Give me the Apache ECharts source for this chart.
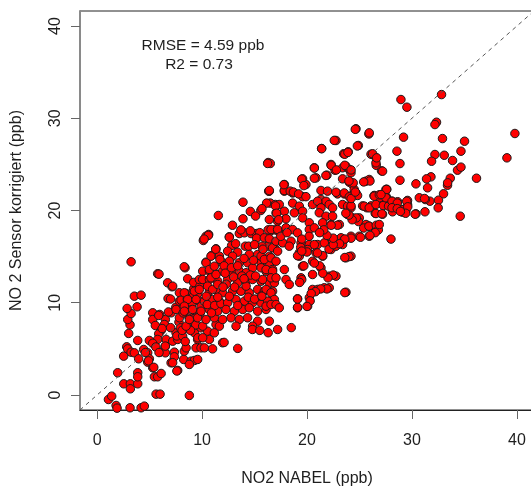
<!DOCTYPE html>
<html>
<head>
<meta charset="utf-8">
<script src="https://cdn.jsdelivr.net/npm/echarts@6/dist/echarts.min.js"></script>
<style>
  html, body { margin: 0; padding: 0; background: #fff; }
  #chart { width: 531px; height: 488px; }
</style>
</head>
<body>
<div id="chart"></div>
<script>
// NO2 NABEL (x) vs. sensor corrected (y), ppb
const lowPoints = [
  [1.08,-0.49],[1.39,-0.13],[1.81,-1.14],[1.9,-1.43],[3.14,-1.39],[4.19,-1.39],[4.5,-1.21],[1.96,2.41],[2.54,1.21],[3.17,1.21],
  [3.87,1.21],[3.17,0.67],[3.87,2.41],[3.87,1.97],[2.53,4.21],[2.82,5.22],[2.91,5.0],[3.24,4.64],[3.55,4.57],[3.96,3.92],
  [3.87,5.91],[3.01,6.67],[3.14,7.61],[2.92,8.18],[3.24,8.83],[2.86,9.38],[3.81,9.56],[3.55,10.71],[4.19,10.82],[3.24,14.44],
  [4.44,4.93],[4.82,4.57],[4.98,3.92],[4.82,3.56],[4.98,5.91],[5.62,0.09],[6.0,0.09],[5.3,2.95],[5.46,1.97],[5.77,1.97],
  [6.1,2.33],[6.0,4.64],[6.5,5.29],[6.5,4.57],[7.36,4.64],[7.05,3.49],[7.36,4.14],[7.68,2.66],[5.3,8.91],[5.96,8.73],
  [5.3,8.18],[6.5,8.18],[7.05,8.91],[5.55,7.53],[6.41,7.64],[6.1,6.99],[5.87,6.63],[6.57,6.02],[5.77,6.02],[7.52,6.74],
  [7.2,5.83],[7.68,6.02],[5.77,13.14],[6.72,12.16],[7.14,11.73],[6.76,10.46],[5.87,8.62],[7.84,11.08],[7.0,10.4],[6.2,7.2],
  [7.0,7.3],[5.3,5.6],[5.6,5.2],[7.8,7.9],[7.5,9.5],[6.8,9.0],[7.6,6.4],[6.5,5.3],[5.9,4.6],[7.2,3.5],
  [7.6,2.6],[4.9,3.7],[5.4,3.0],[4.6,4.6],[5.9,13.1],[7.2,11.8],[7.52,9.27],[7.84,10.17],[7.84,8.37]
];

const midLowPoints = [
  [8.25,3.85],[8.95,3.66],[9.27,3.74],[9.58,3.85],[8.79,3.31],[8.31,4.75],[8.48,5.11],[8.15,6.38],[8.48,7.28],[7.93,7.28],
  [8.95,8.0],[9.43,5.11],[9.9,5.11],[9.27,6.74],[9.9,7.28],[9.58,6.02],[8.79,-0.05],[8.38,13.79],[8.63,12.6],[8.48,11.0],
  [8.0,10.28],[9.2,11.51],[8.5,9.5],[9.0,9.8],[9.5,9.0],[8.7,8.6],[9.3,8.3],[8.2,8.9],[9.7,10.2],[9.1,10.6],
  [8.6,10.4],[9.8,8.8],[9.4,7.6],[8.9,7.0],[8.4,5.8],[9.6,6.2],[9.2,12.2],[9.8,11.8],[8.8,9.2],[9.9,9.6],
  [9.6,11.0],[8.1,7.0],[8.3,13.9],[8.31,11.08],[9.27,11.25],[8.63,10.35],[9.1,9.27],[9.58,8.37],[8.48,7.46],[8.31,9.63],
  [8.31,9.08],[9.9,9.08],[8.79,8.18],[9.43,10.35],[9.74,11.44],[9.74,12.52],[10.22,5.11],[10.53,6.92],[10.7,6.02],[10.06,6.2],
  [11.0,5.0],[11.96,5.66],[11.17,6.74],[11.33,7.64],[10.38,17.21],[10.63,17.4],[10.12,16.75],[11.55,19.46],[11.33,15.85],[10.92,15.12],
  [10.38,14.4],[10.06,13.42],[10.85,15.05],[11.65,15.05],[10.38,14.33],[11.96,14.33],[10.7,13.42],[11.17,13.25],[10.06,12.52],[11.49,12.34],
  [10.7,11.25],[11.96,11.08],[10.22,10.17],[11.65,10.17],[10.7,9.27],[11.17,8.37],[10.06,7.46],[11.65,7.46],[10.7,12.52],[11.96,13.42],
  [11.33,11.44],[11.01,10.35],[11.49,9.08],[10.38,8.18],[11.96,8.18],[10.7,13.6],[11.17,13.96],[10.85,12.7],[11.33,13.06],[10.53,11.8],
  [11.01,11.44],[11.49,11.98],[10.6,17.3],[10.2,16.9],[11.3,15.8],[11.7,14.7],[10.5,9.8],[11.2,9.7],[10.9,8.9],[11.8,9.9],
  [10.4,10.7],[11.5,10.6]
];

const midPoints = [
  [12.6,17.15],[13.55,17.5],[14.03,17.58],[14.67,17.5],[15.2,17.5],[16.5,17.76],[12.82,16.2],[14.12,16.13],[14.44,16.13],[16.25,16.13],
  [16.89,15.96],[12.44,15.59],[13.39,15.48],[12.91,15.05],[14.5,15.23],[15.3,15.23],[16.41,15.05],[12.6,14.5],[13.55,14.33],[14.34,14.33],
  [14.82,13.79],[15.62,14.33],[16.41,14.33],[12.91,13.42],[13.55,13.42],[14.19,13.25],[16.1,13.42],[16.72,13.6],[12.44,12.52],[13.39,12.16],
  [14.19,12.34],[14.82,12.52],[15.62,12.34],[16.41,12.16],[12.91,11.25],[13.71,11.25],[14.5,11.08],[15.3,11.44],[15.93,11.25],[16.72,11.25],
  [12.44,9.99],[13.23,10.35],[14.03,10.17],[14.82,9.99],[15.62,9.99],[16.41,10.17],[12.28,9.27],[13.08,9.08],[13.87,9.27],[14.5,9.45],
  [15.3,9.08],[16.1,9.27],[12.76,8.37],[13.55,8.18],[14.34,8.37],[15.3,8.0],[16.41,8.0],[13.24,7.46],[14.82,7.46],[12.1,5.7],
  [13.4,5.05],[14.8,7.1],[15.5,7.0],[16.3,6.75],[12.9,18.4],[13.7,17.9],[14.6,17.8],[15.5,17.6],[15.2,17.0],[12.6,17.1],
  [13.9,20.9],[15.6,20.0],[14.6,19.9],[13.9,19.1],[15.1,19.4],[16.5,20.8],[16.4,22.1],[16.3,17.9],[16.9,17.9],[16.3,25.2],
  [16.5,25.1],[12.1,14.0],[16.35,22.1],[16.15,20.8],[15.71,20.2],[16.41,19.02],[16.57,17.94],[15.93,17.04],[16.41,16.93],[15.71,16.13],
  [16.72,15.96],[15.62,15.05],[15.93,14.69],[16.57,14.87],[15.62,13.79],[16.1,13.6],[16.72,13.42],[15.77,12.52],[16.89,12.16],[16.57,12.7],
  [16.1,11.44],[16.57,11.08],[15.62,10.71],[16.89,10.35],[16.25,10.17],[16.1,9.63],[16.57,9.81],[16.25,25.1],[16.41,22.17],[13.0,12.8],
  [12.3,12.0],[13.8,12.9],[14.6,13.0],[15.1,12.9],[13.1,11.7],[14.2,11.8],[12.6,10.7],[13.4,9.7],[14.4,10.6],[15.0,10.4],
  [15.7,10.7],[12.2,13.2],[12.8,13.8],[13.4,14.0],[14.0,14.8],[14.9,14.6],[13.2,16.4],[15.0,16.3],[15.8,15.8],[14.0,12.6],
  [12.0,11.7]
];

const highMidPoints = [
  [17.27,17.76],[17.05,14.5],[17.05,12.7],[17.05,9.81],[17.84,22.1],[18.63,21.9],[19.58,21.5],[21.33,21.2],[21.81,21.0],[22.91,21.8],
  [23.55,21.8],[24.19,21.6],[24.67,21.9],[16.98,20.65],[17.36,20.65],[18.63,20.8],[19.27,20.47],[20.53,20.65],[21.01,21.0],[21.33,20.29],
  [22.12,20.65],[22.44,20.29],[23.39,20.65],[23.87,20.47],[24.19,20.29],[17.05,19.75],[17.84,19.92],[18.79,19.75],[19.58,19.92],[21.17,19.75],
  [21.81,19.38],[22.44,19.38],[23.87,19.56],[24.34,19.2],[24.98,19.2],[18.0,19.1],[17.2,18.84],[19.58,19.2],[20.22,18.67],[21.49,18.67],
  [22.29,18.48],[23.08,18.48],[17.2,17.94],[18.0,18.12],[18.63,17.94],[19.1,17.58],[20.22,17.94],[20.7,18.12],[17.05,16.67],[17.68,16.49],
  [18.48,16.67],[19.43,16.49],[20.22,16.31],[21.01,16.31],[21.65,16.49],[22.44,16.67],[23.24,17.04],[23.55,16.86],[24.19,17.21],[24.98,17.21],
  [17.2,15.59],[18.31,16.13],[19.27,15.41],[20.06,15.77],[20.86,15.41],[21.49,15.05],[22.29,15.77],[22.76,16.13],[23.39,16.31],[23.71,14.87],
  [24.19,15.05],[19.27,15.05],[20.53,14.5],[17.84,13.6],[19.58,13.96],[21.33,13.79],[18.0,12.52],[18.31,11.98],[19.43,12.7],[20.53,13.06],
  [22.12,12.88],[22.76,12.88],[20.53,11.44],[21.01,11.44],[21.65,11.62],[22.12,11.62],[23.71,11.14],[19.1,10.43],[20.22,10.54],[19.1,9.45],
  [20.06,9.63],[17.36,9.45],[17.2,7.1],[18.5,7.3],[24.67,28.86],[22.76,27.59],[21.39,26.72],[24.89,27.05],[23.93,26.36],[23.49,26.15],
  [22.29,24.99],[22.67,24.37],[23.39,24.63],[23.71,24.8],[24.03,24.44],[24.19,24.09],[20.7,24.63],[21.9,23.83],[20.86,23.54],[19.58,23.43],
  [23.39,23.43],[24.03,23.07],[17.84,22.82],[19.9,22.82],[24.34,22.82],[24.5,22.28],[17.84,22.17],[21.33,22.17],[21.96,22.1],[22.76,21.98],
  [23.55,21.9],[24.03,21.48],[24.82,21.63],[17.8,22.8],[18.4,22.1],[18.7,22.0],[19.2,21.8],[19.5,23.4],[19.7,22.7],[19.9,21.5],
  [17.0,20.5],[17.1,19.7],[17.3,19.0],[17.5,17.2],[18.1,17.6],[24.2,17.0],[23.6,16.9],[23.1,16.4],[24.0,15.0],[23.6,14.9],
  [23.6,11.1],[22.5,13.0],[21.9,11.5],[21.3,11.5],[20.8,11.2],[20.4,11.0],[20.3,10.2],[20.0,9.6],[19.1,9.5],[19.1,10.4],
  [22.0,12.7],[21.5,13.2],[21.2,14.0],[20.7,14.3],[21.5,15.1],[22.1,15.8],[22.5,16.3],[22.5,17.0],[21.9,17.3],[22.9,18.4],
  [22.3,18.4],[21.6,17.9],[21.2,17.6],[20.2,17.2],[19.5,16.9],[19.4,16.0],[20.0,15.5],[20.7,16.3],[21.0,15.4],[19.5,12.5],
  [19.3,12.2],[19.7,14.0],[19.1,15.1],[19.5,15.6],[24.9,18.8],[24.7,19.2],[24.3,19.0],[24.0,19.5],[23.7,19.7],[24.2,20.5],
  [24.2,21.3],[24.6,22.0],[24.4,23.0],[24.0,23.2],[23.6,24.9],[24.2,24.4],[23.6,26.1],[23.9,26.3],[22.3,24.9],[22.8,24.4],
  [21.4,26.7],[22.6,27.6],[24.6,28.8],[24.8,27.0],[20.7,24.6],[21.8,23.8],[20.7,23.5]
];

const highPoints = [
  [25.9,28.3],[25.93,28.42],[26.1,26.1],[26.6,25.7],[26.6,24.9],[27.1,24.3],[26.25,26.15],[26.57,25.17],[27.2,24.26],[26.64,25.71],
  [25.62,23.18],[25.93,23.36],[26.0,23.2],[25.4,23.1],[27.6,22.3],[26.4,21.6],[26.9,21.6],[27.2,21.2],[26.41,21.63],[26.89,21.38],
  [27.58,21.38],[27.52,22.28],[26.1,20.5],[25.7,20.3],[26.5,19.7],[27.2,19.6],[25.3,20.5],[25.46,20.47],[25.93,20.29],[26.57,20.65],
  [27.27,20.54],[26.57,19.67],[25.62,18.48],[25.93,18.3],[26.57,17.76],[25.93,17.21],[25.4,18.1],[25.9,18.3],[26.6,18.4],[26.8,17.9],
  [26.5,17.6],[26.0,17.3],[25.1,17.1],[28.0,16.9],[26.41,21.55],[26.89,21.7],[27.52,21.55],[28.95,32.03],[29.52,31.2],[32.82,32.57],
  [32.34,29.57],[32.19,29.32],[39.81,28.35],[39.05,25.71],[29.2,27.95],[32.91,27.8],[35.01,27.51],[34.67,26.43],[34.34,24.37],[34.67,24.7],
  [33.87,25.42],[33.08,25.99],[32.19,26.07],[31.87,25.34],[28.57,26.43],[28.86,25.09],[36.15,23.5],[33.65,23.5],[33.39,22.74],[31.81,23.65],
  [31.39,23.43],[31.49,22.46],[30.38,22.89],[28.86,23.28],[27.58,22.28],[33.01,21.81],[32.53,21.12],[31.71,21.01],[31.27,21.19],[30.7,21.38],
  [29.58,21.09],[29.58,20.65],[28.63,20.95],[28.09,21.01],[27.52,21.38],[27.05,21.73],[27.77,20.47],[28.31,20.22],[28.95,20.11],[29.43,20.0],
  [28.15,19.86],[29.1,19.82],[30.38,19.64],[31.24,19.86],[32.5,20.29],[34.6,19.38],[27.14,19.64],[26.89,18.48],[28.1,21.0],[28.6,20.8],
  [28.1,20.3],[28.6,20.2],[29.2,20.1],[29.5,21.0],[29.6,20.4],[29.4,19.7],[28.9,19.9],[33.4,23.0],[31.2,21.3],[30.3,19.6]
];

const axisRange = [-1.63, 41.63];
const tickValues = [0, 10, 20, 30, 40];
const statsLines = ['RMSE = 4.59 ppb', 'R2 = 0.73'];

const points = lowPoints.concat(midLowPoints, midPoints, highMidPoints, highPoints);
const fontFamily = 'Liberation Sans, Arial, sans-serif';
const textColor = '#1e1e1e';

const chart = echarts.init(document.getElementById('chart'), null, { renderer: 'canvas' });

function axisCommon(name) {
  return {
    type: 'value',
    min: axisRange[0],
    max: axisRange[1],
    name: name,
    nameLocation: 'middle',
    nameTextStyle: { fontSize: 16, color: textColor, fontFamily: fontFamily },
    axisLine: { show: true, onZero: false, lineStyle: { color: '#222', width: 1 } },
    axisTick: { show: true, length: 9, customValues: tickValues, lineStyle: { color: '#666' } },
    axisLabel: { customValues: tickValues, fontSize: 16, color: textColor, fontFamily: fontFamily },
    splitLine: { show: false }
  };
}

const xAxis = axisCommon('NO2 NABEL (ppb)');
xAxis.nameGap = 61;
xAxis.axisLabel.margin = 23;

const yAxis = axisCommon('NO 2 Sensor korrigiert (ppb)');
yAxis.nameGap = 55;
yAxis.axisLabel.rotate = 90;
yAxis.axisLabel.margin = 16;
yAxis.axisLine.lineStyle = { color: '#8a8a8a', width: 2 };

const option = {
  animation: false,
  backgroundColor: '#fff',
  grid: {
    left: 80, top: 11, width: 454, height: 399,
    outerBoundsMode: 'none',
    containLabel: false,
    show: true, borderColor: '#222', borderWidth: 1
  },
  xAxis: xAxis,
  yAxis: yAxis,
  series: [
    {
      type: 'scatter',
      data: points,
      symbol: 'circle',
      symbolSize: 8.5,
      itemStyle: { color: '#ff0000', borderColor: '#1a1a1a', borderWidth: 1, opacity: 1 },
      z: 2
    },
    {
      // 1:1 line
      type: 'line',
      data: [[axisRange[0], axisRange[0]], [axisRange[1], axisRange[1]]],
      showSymbol: false,
      symbol: 'none',
      lineStyle: { color: '#555', width: 1, type: [4, 4] },
      z: 3,
      silent: true
    }
  ],
  graphic: [
    {
      type: 'text', x: 203, y: 46,
      style: { text: statsLines[0], textAlign: 'center', textVerticalAlign: 'middle',
               font: '15.5px ' + fontFamily, fill: textColor }
    },
    {
      type: 'text', x: 199, y: 65,
      style: { text: statsLines[1], textAlign: 'center', textVerticalAlign: 'middle',
               font: '15.5px ' + fontFamily, fill: textColor }
    }
  ]
};

chart.setOption(option);
</script>
</body>
</html>
